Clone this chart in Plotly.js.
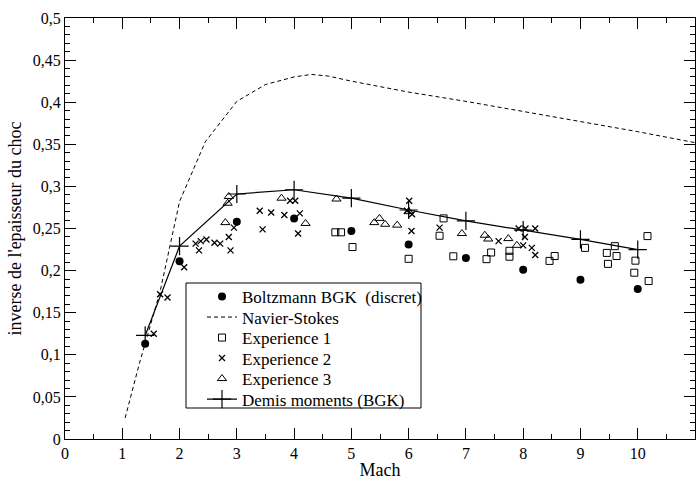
<!DOCTYPE html>
<html>
<head>
<meta charset="utf-8">
<script src="https://cdn.plot.ly/plotly-3.0.1.min.js"></script>
<style>html,body{margin:0;padding:0;background:#fff;}#chart{width:700px;height:481px;}</style>
</head>
<body>
<div id="chart"></div>
<script>
// Boltzmann BGK (discret)
const bgkX = [1.4, 2, 3, 4, 5, 6, 7, 8, 9, 10];
const bgkY = [0.113, 0.211, 0.258, 0.262, 0.247, 0.231, 0.215, 0.201, 0.189, 0.178];

// Navier-Stokes
const nsX = [1.05, 1.3, 1.66, 2.0, 2.45, 3.0, 3.5, 4.0, 4.3, 4.6, 5, 6, 7, 8, 9, 10, 11];
const nsY = [0.025, 0.09, 0.175, 0.282, 0.353, 0.401, 0.421, 0.43, 0.433, 0.431, 0.425, 0.412, 0.401, 0.389, 0.377, 0.365, 0.352];

// Experience 1
const exp1X = [4.72, 4.82, 5.02, 6.0, 6.54, 6.61, 6.78, 7.36, 7.44, 7.76, 7.76, 8.46, 8.55, 9.08, 9.46, 9.48, 9.60, 9.63, 9.96, 9.94, 10.17, 10.19];
const exp1Y = [0.2455, 0.2455, 0.228, 0.214, 0.2414, 0.262, 0.217, 0.2136, 0.2215, 0.2235, 0.2165, 0.2115, 0.2173, 0.227, 0.221, 0.208, 0.229, 0.2173, 0.2118, 0.1975, 0.241, 0.1876];

// Experience 2
const exp2X = [1.55, 1.66, 1.79, 2.08, 2.28, 2.34, 2.37, 2.47, 2.61, 2.71, 2.86, 2.89, 2.95, 3.40, 3.45, 3.60, 3.83, 3.93, 4.02, 4.07, 4.10, 5.97, 6.01, 6.06, 6.05, 6.54, 7.57, 7.92, 8.04, 8.21, 8.03, 8.0, 8.15, 8.21];
const exp2Y = [0.125, 0.172, 0.168, 0.204, 0.232, 0.224, 0.235, 0.237, 0.233, 0.232, 0.240, 0.224, 0.251, 0.271, 0.249, 0.269, 0.266, 0.283, 0.283, 0.244, 0.268, 0.271, 0.283, 0.267, 0.247, 0.251, 0.235, 0.250, 0.250, 0.250, 0.240, 0.230, 0.227, 0.2185];

// Experience 3
const exp3X = [2.80, 2.84, 2.86, 3.78, 4.20, 4.74, 5.40, 5.49, 5.59, 5.80, 6.0, 6.93, 7.33, 7.39, 7.74, 7.89];
const exp3Y = [0.257, 0.280, 0.288, 0.286, 0.256, 0.285, 0.257, 0.262, 0.255, 0.254, 0.270, 0.244, 0.242, 0.2375, 0.238, 0.230];

// Demis moments (BGK)
const demX = [1.4, 2, 3, 4, 5, 6, 7, 8, 9, 10];
const demY = [0.123, 0.229, 0.291, 0.296, 0.286, 0.272, 0.259, 0.248, 0.237, 0.225];

// Tick labels
const xTickVals = [0, 1, 2, 3, 4, 5, 6, 7, 8, 9, 10, 11];
const xTickText = ['0', '1', '2', '3', '4', '5', '6', '7', '8', '9', '10', '11'];
const yTickVals = [0, 0.05, 0.1, 0.15, 0.2, 0.25, 0.3, 0.35, 0.4, 0.45, 0.5];
const yTickText = ['0', '0,05', '0,1', '0,15', '0,2', '0,25', '0,3', '0,35', '0,4', '0,45', '0,5'];

const seriesNames = ['Boltzmann BGK\u00a0 (discret)', 'Navier-Stokes', 'Experience 1', 'Experience 2', 'Experience 3', 'Demis moments (BGK)'];

const FONT = '"Liberation Serif", "Times New Roman", serif';

const traces = [
  {x: bgkX, y: bgkY, name: seriesNames[0], legend: 'legend', type: 'scatter', mode: 'markers',
   marker: {symbol: 'circle', size: 8, color: 'black'}},
  {x: nsX, y: nsY, name: seriesNames[1], legend: 'legend2', type: 'scatter', mode: 'lines',
   line: {color: 'black', width: 1, dash: '4px,3px'}},
  {x: exp1X, y: exp1Y, name: seriesNames[2], legend: 'legend3', type: 'scatter', mode: 'markers',
   marker: {symbol: 'square-open', size: 7, color: 'black', line: {width: 1, color: 'black'}}},
  {x: exp2X, y: exp2Y, name: seriesNames[3], legend: 'legend4', type: 'scatter', mode: 'markers',
   marker: {symbol: 'x-thin-open', size: 6, color: 'black', line: {width: 1.3, color: 'black'}}},
  {x: exp3X, y: exp3Y, name: seriesNames[4], legend: 'legend5', type: 'scatter', mode: 'markers',
   marker: {symbol: 'triangle-up-open', size: 8, color: 'black', line: {width: 1, color: 'black'}}},
  {x: demX, y: demY, name: seriesNames[5], legend: 'legend6', type: 'scatter', mode: 'lines+markers',
   line: {color: 'black', width: 1.2},
   marker: {symbol: 'cross-thin-open', size: 13, color: 'black', line: {width: 1.2, color: 'black'}}}
];

const axisCommon = {
  showline: true, linecolor: 'black', linewidth: 1, mirror: 'allticks',
  ticks: 'inside', ticklen: 11, tickwidth: 1, tickcolor: 'black',
  showgrid: false, zeroline: false, tickmode: 'array',
  tickfont: {family: FONT, size: 16, color: 'black'}
};

// plot area in pixels: left 65, right 695, top 18, bottom 439
const plotL = 65, plotW = 630, plotB = 439, plotH = 421;
const px2x = p => (p - plotL) / plotW;
const px2y = p => (plotB - p) / plotH;

const legendRowsPx = [297, 317.5, 338, 358.5, 379, 399.5];

const layout = {
  width: 700, height: 481,
  margin: {l: 65, r: 5, t: 18, b: 42},
  paper_bgcolor: 'white', plot_bgcolor: 'white',
  font: {family: FONT, size: 16, color: 'black'},
  showlegend: true,
  xaxis: Object.assign({}, axisCommon, {
    range: [0, 11], tickvals: xTickVals, ticktext: xTickText,
    minor: {tickmode: 'linear', tick0: 0, dtick: 0.5, ticks: 'inside', ticklen: 5, tickcolor: 'black', showgrid: false},
    title: {text: 'Mach', font: {family: FONT, size: 18, color: 'black'}, standoff: 2}
  }),
  yaxis: Object.assign({}, axisCommon, {
    range: [0, 0.5], tickvals: yTickVals, ticktext: yTickText,
    minor: {tickmode: 'linear', tick0: 0, dtick: 0.01, ticks: 'inside', ticklen: 5, tickcolor: 'black', showgrid: false},
    title: {text: "inverse de l'epaisseur du choc", font: {family: FONT, size: 18, color: 'black'}, standoff: 6}
  }),
  shapes: [{
    type: 'rect', xref: 'paper', yref: 'paper', layer: 'below',
    x0: px2x(186), x1: px2x(421), y0: px2y(408), y1: px2y(283),
    line: {color: 'black', width: 1}, fillcolor: 'white'
  }]
};

const legendKeys = ['legend', 'legend2', 'legend3', 'legend4', 'legend5', 'legend6'];
legendKeys.forEach((k, i) => {
  layout[k] = {
    x: px2x(202), y: px2y(legendRowsPx[i]), xanchor: 'left', yanchor: 'middle',
    bgcolor: 'rgba(0,0,0,0)', borderwidth: 0,
    font: {family: FONT, size: 17, color: 'black'},
    itemwidth: 30
  };
});

Plotly.newPlot('chart', traces, layout, {displayModeBar: false, staticPlot: true});
</script>
</body>
</html>
